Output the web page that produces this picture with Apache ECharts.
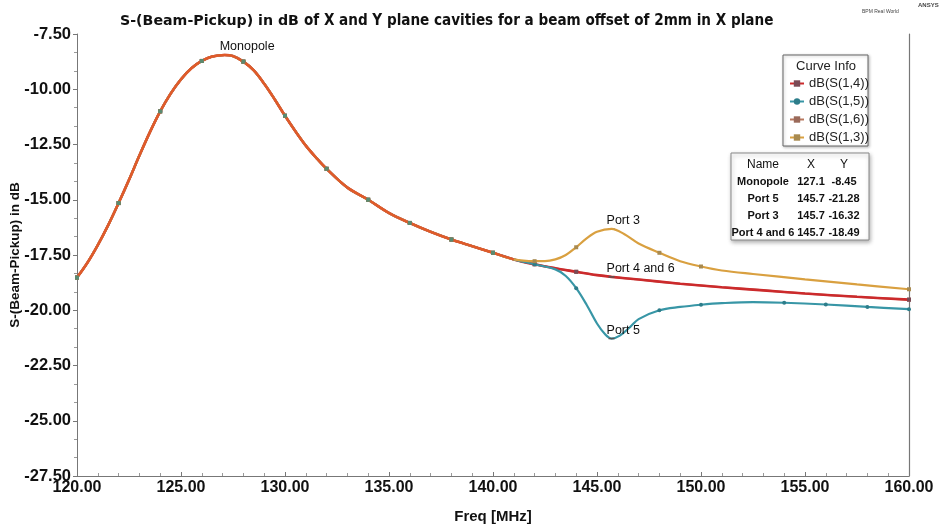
<!DOCTYPE html>
<html>
<head>
<meta charset="utf-8">
<script src="https://cdn.jsdelivr.net/npm/echarts@6/dist/echarts.min.js"></script>
<style>
  html, body { margin: 0; padding: 0; background: #ffffff; }
  #chart { width: 939px; height: 528px; }
</style>
</head>
<body>
<div id="chart"></div>
<script>
// Frequency span and tick settings
const xMin = 120, xMax = 160, xStep = 5;
const yMin = -27.5, yMax = -7.5, yStep = 2.5;

// Below ~141 MHz all four transmission curves coincide (monopole resonance)
const sharedFreq = [120, 120.5, 121, 121.5, 122, 122.5, 123, 123.5, 124, 124.5, 125, 125.5,
  126, 126.5, 127.1, 127.5, 128, 128.5, 129, 129.5, 130, 130.5, 131, 131.5, 132, 133, 134,
  135, 136, 137, 138, 139, 140, 141];
const sharedDb = [-18.52, -17.85, -17.05, -16.15, -15.15, -14.1, -13.0, -11.95, -11.0, -10.2,
  -9.55, -9.05, -8.72, -8.52, -8.45, -8.5, -8.75, -9.15, -9.75, -10.45, -11.2, -11.9, -12.55,
  -13.1, -13.6, -14.45, -15.0, -15.6, -16.05, -16.45, -16.8, -17.1, -17.4, -17.7];

// dB(S(1,4)) and dB(S(1,6)) above 141 MHz (ports 4 and 6)
const s14Freq = [142, 143, 144, 145, 145.7, 147, 149, 151, 153, 155, 157.5, 160];
const s14Db = [-17.92, -18.1, -18.26, -18.41, -18.49, -18.61, -18.8, -18.96, -19.1, -19.24, -19.39, -19.52];
const s16Freq = [142, 143, 144, 145, 145.7, 147, 149, 151, 153, 155, 157.5, 160];
const s16Db = [-17.92, -18.1, -18.26, -18.41, -18.49, -18.61, -18.8, -18.96, -19.1, -19.24, -19.39, -19.52];

// dB(S(1,5)) above 141 MHz (port 5 notch)
const s15Freq = [142, 143, 143.5, 144, 144.5, 145, 145.4, 145.7, 146.1, 146.6, 147, 148, 149, 150,
  151, 152.5, 154, 156, 158, 160];
const s15Db = [-17.92, -18.15, -18.45, -19.0, -19.75, -20.6, -21.1, -21.28, -21.15, -20.75, -20.4,
  -20.0, -19.85, -19.75, -19.68, -19.63, -19.66, -19.74, -19.85, -19.95];

// dB(S(1,3)) above 141 MHz (port 3 peak)
const s13Freq = [142, 142.5, 143, 143.5, 144, 144.5, 145, 145.7, 146.3, 147, 148, 149, 150, 151,
  152.5, 155, 157.5, 160];
const s13Db = [-17.78, -17.78, -17.7, -17.5, -17.15, -16.75, -16.45, -16.32, -16.55, -16.98, -17.4,
  -17.78, -18.02, -18.2, -18.36, -18.6, -18.83, -19.05];

// Marker table
const markerNames = ['Monopole', 'Port 5', 'Port 3', 'Port 4 and 6'];
const markerX = [127.1, 145.7, 145.7, 145.7];
const markerY = [-8.45, -21.28, -16.32, -18.49];

const seriesNames = ['dB(S(1,4))', 'dB(S(1,5))', 'dB(S(1,6))', 'dB(S(1,3))'];

function pairs(fs, ds) { return fs.map((f, i) => [f, ds[i]]); }
function full(fs, ds) { return pairs(sharedFreq, sharedDb).concat(pairs(fs, ds)); }

// markers drawn every other MHz
function tickSymbolSize(v) {
  const f = v[0];
  return (Number.isInteger(f) && f % 2 === 0) ? 4 : 0;
}

function markerPoint(idx) {
  return { coord: [markerX[idx], markerY[idx]], name: markerNames[idx] };
}

const FONT = "'Liberation Sans', Arial, sans-serif";
const NARROW = "'Liberation Sans Narrow', 'Arial Narrow', 'DejaVu Sans Condensed', sans-serif";

const markStyle = {
  symbol: 'rect',
  symbolSize: [6, 1.5],
  itemStyle: { color: '#555' },
  label: {
    show: true,
    position: [-2, -14],
    formatter: p => p.name,
    fontFamily: FONT,
    fontSize: 12.5,
    color: '#111'
  },
  animation: false
};

const chart = echarts.init(document.getElementById('chart'), null, { renderer: 'canvas' });

const tableLeft = 731, tableTop = 153, rowH = 17;
const colName = 763, colX = 811, colY = 844;
const tableTexts = [];
[['Name', colName], ['X', colX], ['Y', colY]].forEach(([t, cx]) => {
  tableTexts.push({
    type: 'text', x: cx, y: tableTop + 12,
    style: { text: t, fill: '#111', font: '12px ' + FONT, textAlign: 'center', textVerticalAlign: 'middle' }
  });
});
markerNames.forEach((n, i) => {
  const y = tableTop + 29 + i * rowH;
  const st = { fill: '#111', font: 'bold 11px ' + FONT, textAlign: 'center', textVerticalAlign: 'middle' };
  tableTexts.push({ type: 'text', x: colName, y: y, style: Object.assign({ text: n }, st) });
  tableTexts.push({ type: 'text', x: colX, y: y, style: Object.assign({ text: markerX[i].toFixed(1) }, st) });
  tableTexts.push({ type: 'text', x: colY, y: y, style: Object.assign({ text: markerY[i].toFixed(2) }, st) });
});

const option = {
  animation: false,
  backgroundColor: '#ffffff',
  title: {
    left: 115,
    top: 7,
    text: '{a|S-(Beam-Pickup) in dB} {b|of X and Y plane cavities for a beam offset of 2mm in X plane}',
    textStyle: {
      rich: {
        a: { fontFamily: "'DejaVu Sans', sans-serif", fontWeight: 'bold', fontSize: 14.2, color: '#111' },
        b: { fontFamily: NARROW, fontWeight: 'bold', fontSize: 15.1, color: '#111' }
      }
    }
  },
  grid: { left: 77, right: 30, top: 34, bottom: 52, containLabel: false, outerBoundsMode: 'none' },
  legend: {
    data: seriesNames,
    orient: 'vertical',
    left: 784,
    top: 72,
    itemGap: 5,
    itemWidth: 14,
    itemHeight: 8,
    textStyle: { fontFamily: FONT, fontSize: 13, color: '#222' }
  },
  xAxis: {
    type: 'value',
    min: xMin, max: xMax, interval: xStep,
    name: 'Freq [MHz]',
    nameLocation: 'middle',
    nameGap: 33,
    nameMoveOverlap: false,
    nameTextStyle: { fontFamily: FONT, fontWeight: 'bold', fontSize: 15, color: '#111' },
    axisLine: { lineStyle: { color: '#777', width: 1 } },
    axisTick: { show: true, inside: true, length: 4, lineStyle: { color: '#777' } },
    minorTick: { show: true, splitNumber: 5, length: 3, lineStyle: { color: '#999' } },
    splitLine: { show: false },
    axisLabel: {
      formatter: v => v.toFixed(2),
      fontFamily: FONT, fontWeight: 'bold', fontSize: 16, color: '#111', margin: 4
    }
  },
  yAxis: [{
    type: 'value',
    min: yMin, max: yMax, interval: yStep,
    name: 'S-(Beam-Pickup) in dB',
    nameLocation: 'middle',
    nameGap: 55,
    nameMoveOverlap: false,
    nameTextStyle: { fontFamily: FONT, fontWeight: 'bold', fontSize: 13.5, color: '#111' },
    axisLine: { show: true, lineStyle: { color: '#777', width: 1 } },
    axisTick: { show: true, inside: false, length: 4, lineStyle: { color: '#777' } },
    minorTick: { show: true, splitNumber: 3, length: 3, lineStyle: { color: '#999' } },
    splitLine: { show: false },
    axisLabel: {
      formatter: v => v.toFixed(2),
      fontFamily: FONT, fontWeight: 'bold', fontSize: 16.5, color: '#111', margin: 6
    }
  }, {
    type: 'value',
    position: 'right',
    min: yMin, max: yMax, interval: yStep,
    axisLine: { show: true, lineStyle: { color: '#777', width: 1.2 } },
    axisTick: { show: false },
    axisLabel: { show: false },
    splitLine: { show: false }
  }],
  series: [
    {
      name: seriesNames[2], type: 'line', smooth: 0.35,
      data: full(s16Freq, s16Db),
      symbol: 'rect', symbolSize: tickSymbolSize, showAllSymbol: true,
      lineStyle: { color: '#b9785e', width: 2 },
      itemStyle: { color: '#9a6a5a' },
      z: 2
    },
    {
      name: seriesNames[0], type: 'line', smooth: 0.35,
      data: full(s14Freq, s14Db),
      symbol: 'rect', symbolSize: tickSymbolSize, showAllSymbol: true,
      lineStyle: { color: '#cc2a2c', width: 2.6 },
      itemStyle: { color: '#7a4a55' },
      markPoint: Object.assign({ data: [markerPoint(3)] }, markStyle),
      z: 3
    },
    {
      name: seriesNames[1], type: 'line', smooth: 0.35,
      data: full(s15Freq, s15Db),
      symbol: 'circle', symbolSize: tickSymbolSize, showAllSymbol: true,
      lineStyle: { color: '#3896a6', width: 2.2 },
      itemStyle: { color: '#2d7d8a' },
      markPoint: Object.assign({ data: [markerPoint(1)] }, markStyle),
      z: 4
    },
    {
      name: seriesNames[3], type: 'line', smooth: 0.35,
      data: full(s13Freq, s13Db),
      symbol: 'rect', symbolSize: tickSymbolSize, showAllSymbol: true,
      lineStyle: { color: '#d9a040', width: 2.2 },
      itemStyle: { color: '#a88a50' },
      markPoint: Object.assign({ data: [markerPoint(2)] }, markStyle),
      z: 5
    },
    {
      // overlapping section of all four curves, shown in the blended trace colour
      name: 'shared', type: 'line', smooth: 0.35,
      data: pairs(sharedFreq, sharedDb),
      symbol: 'rect', symbolSize: tickSymbolSize, showAllSymbol: true,
      lineStyle: { color: '#e05a2a', width: 2.5 },
      itemStyle: { color: '#5a8a70' },
      markPoint: Object.assign({ data: [markerPoint(0)] }, markStyle),
      z: 6
    }
  ],
  graphic: [
    { type: 'text', left: 918, top: 2, style: { text: 'ANSYS', fill: '#444', font: 'bold 6px ' + FONT } },
    { type: 'text', left: 862, top: 9, style: { text: 'BPM Real World', fill: '#444', font: '5px ' + FONT } },
    {
      type: 'rect', shape: { x: 783, y: 55, width: 85, height: 91 },
      style: { fill: '#fff', stroke: '#666', lineWidth: 1, shadowBlur: 3, shadowColor: 'rgba(0,0,0,0.25)', shadowOffsetX: 1, shadowOffsetY: 1 },
      z: 0
    },
    { type: 'text', x: 826, y: 66, style: { text: 'Curve Info', fill: '#222', font: '13px ' + FONT, textAlign: 'center', textVerticalAlign: 'middle' }, z: 10 },
    {
      type: 'rect', shape: { x: tableLeft, y: tableTop, width: 138, height: 87 },
      style: { fill: '#fff', stroke: '#888', lineWidth: 1, shadowBlur: 4, shadowColor: 'rgba(0,0,0,0.3)', shadowOffsetX: 1, shadowOffsetY: 2 },
      z: 0
    },
    { type: 'group', children: tableTexts, z: 10 }
  ]
};

chart.setOption(option);
</script>
</body>
</html>
